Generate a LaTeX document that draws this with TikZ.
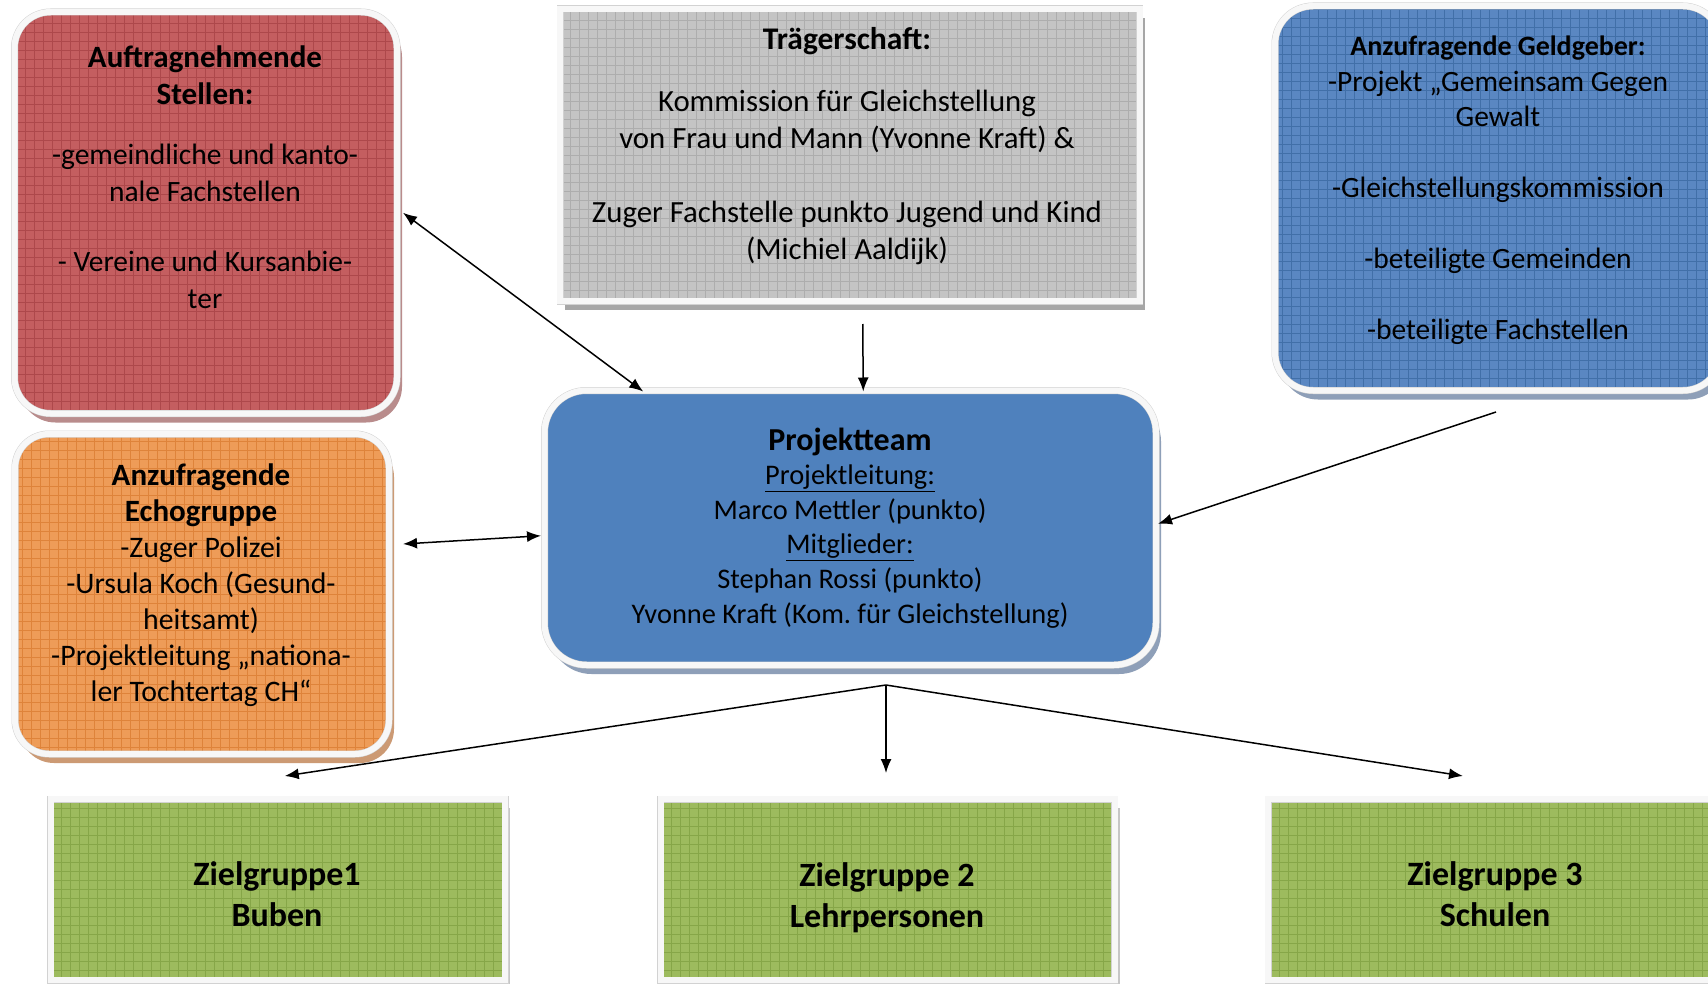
\documentclass[tikz,border=0pt]{standalone}
\usepackage{fontspec}
\setmainfont{Carlito}
\usetikzlibrary{arrows.meta,shadows}
\definecolor{redF}{HTML}{C45E60}
\definecolor{redG}{HTML}{AD484B}
\definecolor{redS}{HTML}{B98C8C}
\definecolor{grayF}{HTML}{C4C4C4}
\definecolor{grayG}{HTML}{ADADAD}
\definecolor{grayS}{HTML}{A6A6A6}
\definecolor{blueF}{HTML}{5A87C2}
\definecolor{blueG}{HTML}{416FA8}
\definecolor{blueS}{HTML}{8E9FB8}
\definecolor{orangeF}{HTML}{EE9C58}
\definecolor{orangeG}{HTML}{DE833A}
\definecolor{orangeS}{HTML}{CC9A74}
\definecolor{ptF}{HTML}{4F81BD}
\definecolor{greenF}{HTML}{9DBB5E}
\definecolor{greenG}{HTML}{86A648}
\begin{document}
\begin{tikzpicture}[x=1pt,y=-1pt,
  basebox/.style={draw=gray!35, line width=0.5pt, double=gray!6, double distance=6pt,
    inner sep=0pt, outer sep=0pt},
  gridfill/.style={path picture={\draw[#1, line width=0.7pt, step=9pt]
    (path picture bounding box.south west) grid (path picture bounding box.north east);}},
  shade/.style={drop shadow={shadow xshift=5pt, shadow yshift=-9pt, fill=#1, opacity=1}},
  txt/.style={align=center, inner sep=0pt, font=\fontsize{29.5}{37}\selectfont},
  ztxt/.style={align=center, inner sep=0pt, font=\bfseries\fontsize{34}{41.5}\selectfont},
  conn/.style={line width=1.5pt, -{Latex[length=14pt,width=11pt]}},
  conn2/.style={line width=1.5pt, {Latex[length=14pt,width=11pt]}-{Latex[length=14pt,width=11pt]}}
]
\useasboundingbox (0,0) rectangle (1708,984);
\fill[white] (0,0) rectangle (1708,984);

% boxes
\node[basebox, shade=redS, fill=redF, gridfill=redG, rounded corners=36pt,
  minimum width=382.5pt, minimum height=401.5pt] (auf) at (205.75,212.75) {};
\node[basebox, shade=grayS, fill=grayF, gridfill=grayG,
  minimum width=579.5pt, minimum height=292.5pt] (traeger) at (849.75,155.25) {};
\node[basebox, shade=blueS, fill=blueF, gridfill=blueG, rounded corners=38pt,
  minimum width=446pt, minimum height=384.5pt] (geld) at (1498,198.25) {};
\node[basebox, shade=orangeS, fill=orangeF, gridfill=orangeG, rounded corners=34pt,
  minimum width=374pt, minimum height=320pt] (echo) at (202,594) {};
\node[basebox, shade=blueS, fill=ptF, rounded corners=42pt,
  minimum width=611.5pt, minimum height=274.5pt] (pt) at (850.25,527.75) {};
\node[basebox, shade=gray!45, fill=greenF, gridfill=greenG,
  minimum width=454.5pt, minimum height=181pt] (z1) at (277.75,889.5) {};
\node[basebox, shade=gray!45, fill=greenF, gridfill=greenG,
  minimum width=454pt, minimum height=181pt] (z2) at (887.5,889.5) {};
\node[basebox, shade=gray!45, fill=greenF, gridfill=greenG,
  minimum width=454pt, minimum height=181pt] (z3) at (1495,889.5) {};

% texts
\node[txt] (aufT) at (205,177.5) {{\bfseries\fontsize{31}{37}\selectfont Auftragnehmende}\\
  {\bfseries\fontsize{31}{37}\selectfont Stellen:}\\[23pt]
  -gemeindliche und kanto-\\nale Fachstellen\\[33pt]- Vereine und Kursanbie-\\ter};
\node[txt, font=\fontsize{30.8}{37}\selectfont] (traegerT) at (847,146)
  {{\bfseries\fontsize{31.5}{37}\selectfont Trägerschaft:}\\[25pt]
  Kommission für Gleichstellung\\von Frau und Mann (Yvonne Kraft) \&\\[37pt]
  Zuger Fachstelle punkto Jugend und Kind\\(Michiel Aaldijk)};
\node[txt, font=\fontsize{29.5}{35.5}\selectfont] (geldT) at (1498,190.5)
  {{\bfseries\fontsize{28}{33}\selectfont Anzufragende Geldgeber:}\\
  -Projekt „Gemeinsam Gegen\\Gewalt\\[35.5pt]-Gleichstellungskommission\\[35.5pt]
  -beteiligte Gemeinden\\[35.5pt]-beteiligte Fachstellen};
\node[txt, font=\fontsize{29.8}{36}\selectfont] (echoT) at (201,585.5)
  {{\bfseries\fontsize{31}{36}\selectfont Anzufragende}\\
  {\bfseries\fontsize{31}{36}\selectfont Echogruppe}\\-Zuger Polizei\\-Ursula Koch (Gesund-\\heitsamt)\\
  -Projektleitung „nationa-\\ler Tochtertag CH“};
\node[txt, font=\fontsize{28.4}{34.6}\selectfont] (ptT) at (850,527.8)
  {{\bfseries\fontsize{32}{36}\selectfont Projektteam}\\\underline{Projektleitung:}\\Marco Mettler (punkto)\\
  \underline{Mitglieder:}\\Stephan Rossi (punkto)\\Yvonne Kraft (Kom.\ für Gleichstellung)};
\node[ztxt] (z1T) at (277,894.3) {Zielgruppe1\\Buben};
\node[ztxt] (z2T) at (887,897.6) {Zielgruppe 2\\Lehrpersonen};
\node[ztxt] (z3T) at (1495,894.3) {Zielgruppe 3\\Schulen};

% connectors
\draw[conn2] ([xshift=6pt]auf.east) -- ([xshift=-207pt,yshift=-1pt]pt.north);
\draw[conn] ([xshift=13pt,yshift=-22.5pt]traeger.south) -- ([xshift=13pt,yshift=-1pt]pt.north);
\draw[conn] ([xshift=-2pt,yshift=-21.5pt]geld.south) -- ([xshift=2pt,yshift=4pt]pt.east);
\draw[conn2] ([xshift=14pt,yshift=50pt]echo.east) -- ([xshift=-3.5pt,yshift=-8pt]pt.west);
\coordinate (fan) at (886,685);
\draw[conn] (fan) -- ([xshift=7pt,yshift=23pt]z1.north);
\draw[conn] (fan) -- ([xshift=-1.5pt,yshift=26pt]z2.north);
\draw[conn] (fan) -- ([xshift=-32pt,yshift=23pt]z3.north);
\end{tikzpicture}
\end{document}
